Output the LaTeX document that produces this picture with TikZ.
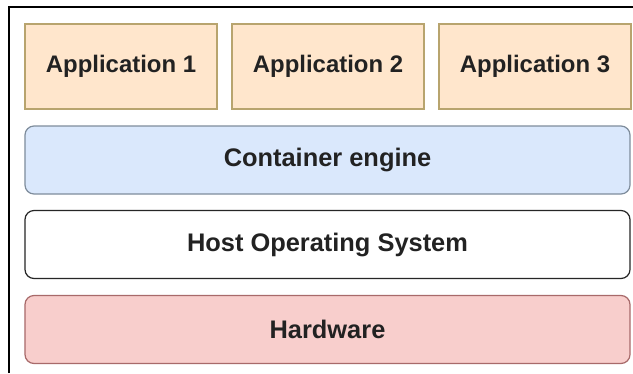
\documentclass[tikz,border=0pt]{standalone}
\usepackage{fontspec}
\setmainfont{Liberation Sans}
\definecolor{appfill}{HTML}{FFE6CC}
\definecolor{appline}{HTML}{B8A46E}
\definecolor{engfill}{HTML}{DAE8FC}
\definecolor{engline}{HTML}{7F8D9C}
\definecolor{hwfill}{HTML}{F8CECC}
\definecolor{hwline}{HTML}{A86A6A}
\definecolor{txt}{HTML}{222222}
\tikzset{
  layer/.style={draw, line width=1.2bp, inner sep=0pt, outer sep=0pt, text=txt},
  appbox/.style={layer, fill=appfill, draw=appline,
    font=\fontsize{24}{28}\selectfont\bfseries,
    minimum width=192bp, minimum height=85bp},
  band/.style={layer, rounded corners=9bp, font=\fontsize{25.5}{30}\selectfont\bfseries,
    minimum width=605bp, minimum height=68bp}
}
\begin{document}
\begin{tikzpicture}[x=1bp, y=-1bp]
\useasboundingbox (0,0) rectangle (633,373);
\fill[white] (0,0) rectangle (633,373);
% outer frame, cut off at the right and bottom
\draw[line width=1.6bp] (9,373) -- (9,7) -- (633,7);
% applications on top
\foreach\i/\x in {1/121, 2/328, 3/535}
  \node[appbox] (app\i) at (\x,66.5) {Application \i};
% stack of layers
\node[band, fill=engfill, draw=engline] (engine) at (327.5,160) {Container engine};
\node[band, fill=white, draw=black!85] (hostos) at (327.5,244.5) {Host Operating System};
\node[band, fill=hwfill, draw=hwline] (hardware) at (327.5,329.5) {Hardware};
\end{tikzpicture}
\end{document}
